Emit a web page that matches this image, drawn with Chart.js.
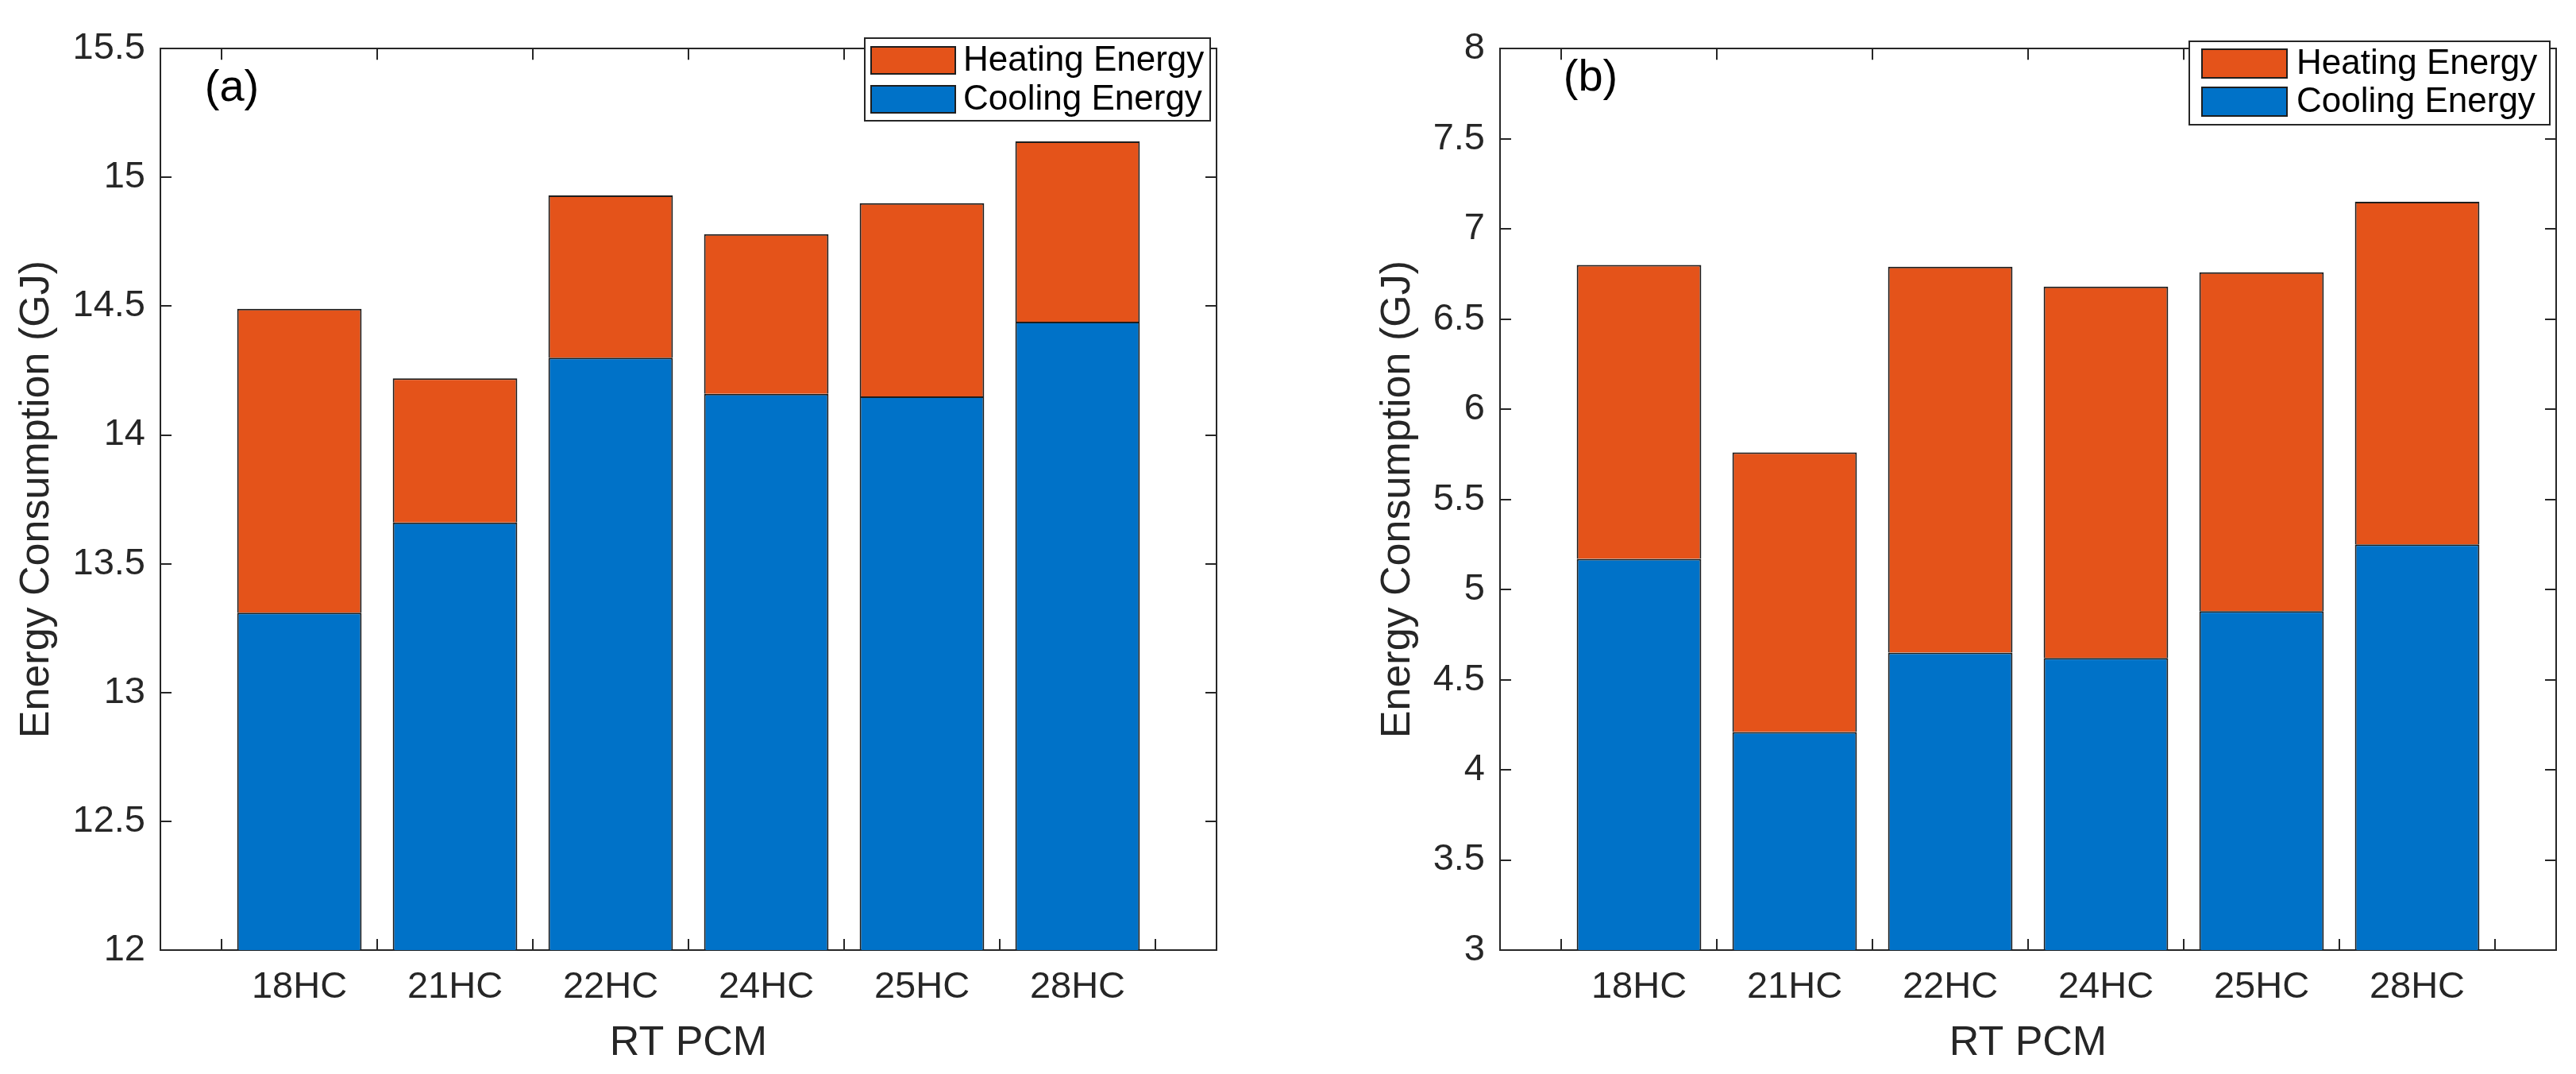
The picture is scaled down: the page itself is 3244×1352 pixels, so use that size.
<!DOCTYPE html>
<html>
<head>
<meta charset="utf-8">
<title>Energy consumption by RT PCM</title>
<script src="https://cdn.jsdelivr.net/npm/chart.js@4.4.1/dist/chart.umd.min.js"></script>
<style>
  html, body { margin: 0; padding: 0; background: #fff; }
  .panel { position: absolute; top: 0; width: 1622px; height: 1352px; }
  #panelA { left: 0; }
  #panelB { left: 1622px; }
</style>
</head>
<body>
<div class="panel" id="panelA"><canvas id="chartA"></canvas></div>
<div class="panel" id="panelB"><canvas id="chartB"></canvas></div>
<script>
// ── Data ──────────────────────────────────────────────────────
const categories = ['18HC', '21HC', '22HC', '24HC', '25HC', '28HC'];
const categoryPos = [1, 2, 3, 4, 5, 6];

const coolingA = [13.31, 13.66, 14.30, 14.16, 14.15, 14.44];
const heatingA = [1.18, 0.56, 0.63, 0.62, 0.75, 0.70];

const coolingB = [5.17, 4.21, 4.65, 4.62, 4.88, 5.25];
const heatingB = [1.63, 1.55, 2.14, 2.06, 1.88, 1.90];

const yTicksA = [12, 12.5, 13, 13.5, 14, 14.5, 15, 15.5];
const yTicksB = [3, 3.5, 4, 4.5, 5, 5.5, 6, 6.5, 7, 7.5, 8];

// ── Styles ────────────────────────────────────────────────────
const heatColor = '#E4531A';
const coolColor = '#0072C8';
const ink = '#262626';
const edge = '#1e1e1e';
const FONT = "'Liberation Sans', Arial, Helvetica, sans-serif";

Chart.defaults.font.family = FONT;
Chart.defaults.color = ink;

// panel tag + boxed legend drawn inside the axes, MATLAB style
const panelDecor = {
  id: 'panelDecor',
  afterDraw(chart, args, opts) {
    const ctx = chart.ctx;
    ctx.save();
    ctx.fillStyle = '#000';
    ctx.textAlign = 'center';
    ctx.textBaseline = 'middle';
    ctx.font = `${opts.tagSize}px ${FONT}`;
    ctx.fillText(opts.tag, opts.tagX, opts.tagY);

    const L = opts.legend;
    ctx.fillStyle = '#fff';
    ctx.fillRect(L.x, L.y, L.w, L.h);
    ctx.strokeStyle = ink;
    ctx.lineWidth = 2;
    ctx.strokeRect(L.x, L.y, L.w, L.h);

    [1, 0].forEach((di, row) => {   // heating listed first
      const ds = chart.data.datasets[di];
      const sy = L.rowY[row];
      ctx.fillStyle = ds.backgroundColor;
      ctx.fillRect(L.swX, sy, L.swW, L.swH);
      ctx.strokeStyle = edge;
      ctx.strokeRect(L.swX, sy, L.swW, L.swH);
      ctx.fillStyle = '#000';
      ctx.textAlign = 'left';
      ctx.font = `${L.font}px ${FONT}`;
      ctx.fillText(ds.label, L.textX, sy + L.swH / 2 + 1);
    });
    ctx.restore();
  }
};

const X_MIN = 0.107, X_MAX = 6.893;

function tickGrid() {
  return { drawOnChartArea: false, drawTicks: true, tickLength: -14, color: ink, lineWidth: 2 };
}
function axisBorder() {
  return { display: true, color: ink, width: 2 };
}

function makeChart(id, cooling, heating, yTicks, lay) {
  const yMin = yTicks[0], yMax = yTicks[yTicks.length - 1];
  return new Chart(document.getElementById(id), {
    type: 'bar',
    data: {
      datasets: [
        {
          label: 'Cooling Energy',
          data: categoryPos.map((x, i) => ({ x, y: cooling[i] })),
          backgroundColor: coolColor, borderColor: edge, borderWidth: 2,
          borderSkipped: 'bottom', barPercentage: 0.8, categoryPercentage: 1.0,
        },
        {
          label: 'Heating Energy',
          data: categoryPos.map((x, i) => ({ x, y: heating[i] })),
          backgroundColor: heatColor, borderColor: edge, borderWidth: 2,
          borderSkipped: 'bottom', barPercentage: 0.8, categoryPercentage: 1.0,
        }
      ]
    },
    options: {
      responsive: true, maintainAspectRatio: false, animation: false,
      devicePixelRatio: 1,
      layout: { padding: { left: 0, right: lay.padRight, top: 39, bottom: 0 } },
      plugins: {
        legend: { display: false },
        tooltip: { enabled: false },
        panelDecor: lay.decor
      },
      scales: {
        x: {
          type: 'linear', position: 'bottom', stacked: true,
          min: X_MIN, max: X_MAX, offset: false,
          afterBuildTicks: s => { s.ticks = categoryPos.map(v => ({ value: v })); },
          afterFit: s => { s.height = 156; },
          ticks: {
            autoSkip: false, maxRotation: 0, padding: 33, color: ink,
            font: { size: 47 },
            callback: v => categories[categoryPos.indexOf(v)]
          },
          grid: tickGrid(),
          border: axisBorder(),
          title: {
            display: true, text: 'RT PCM', color: ink,
            font: { size: 52, lineHeight: 1 }, padding: { top: 0, bottom: 12 }
          }
        },
        y: {
          type: 'linear', position: 'left', stacked: true,
          min: yMin, max: yMax,
          afterBuildTicks: s => { s.ticks = yTicks.map(v => ({ value: v })); },
          afterFit: s => { s.width = lay.axisLeft; },
          ticks: { padding: 33, color: ink, font: { size: 47 }, callback: v => String(v) },
          grid: tickGrid(),
          border: axisBorder(),
          title: {
            display: true, text: 'Energy Consumption (GJ)', color: ink,
            font: { size: 52, lineHeight: 1 }, padding: { top: lay.yTitlePad, bottom: 0 }
          }
        },
        x2: {
          type: 'linear', position: 'top', min: X_MIN, max: X_MAX, offset: false,
          afterBuildTicks: s => { s.ticks = categoryPos.map(v => ({ value: v })); },
          afterFit: s => { s.height = 0; },
          ticks: { display: false },
          grid: tickGrid(),
          border: axisBorder()
        },
        y2: {
          type: 'linear', position: 'right', min: yMin, max: yMax,
          afterBuildTicks: s => { s.ticks = yTicks.map(v => ({ value: v })); },
          afterFit: s => { s.width = 0; },
          ticks: { display: false },
          grid: tickGrid(),
          border: axisBorder()
        }
      }
    },
    plugins: [panelDecor]
  });
}

// ── Panel (a) ─────────────────────────────────────────────────
makeChart('chartA', coolingA, heatingA, yTicksA, {
  axisLeft: 202, padRight: 90, yTitlePad: 21,
  decor: {
    tag: '(a)', tagSize: 56, tagX: 292, tagY: 112,
    legend: {
      x: 1089, y: 48, w: 435, h: 104,
      swX: 1097, swW: 106, swH: 34, rowY: [59, 108],
      textX: 1213, font: 44
    }
  }
});

// ── Panel (b) ─────────────────────────────────────────────────
makeChart('chartB', coolingB, heatingB, yTicksB, {
  axisLeft: 267, padRight: 25, yTitlePad: 113,
  decor: {
    tag: '(b)', tagSize: 56, tagX: 381, tagY: 99,
    legend: {
      x: 1135, y: 52, w: 454, h: 105,
      swX: 1151, swW: 107, swH: 36, rowY: [62, 110],
      textX: 1270, font: 44
    }
  }
});
</script>
</body>
</html>
